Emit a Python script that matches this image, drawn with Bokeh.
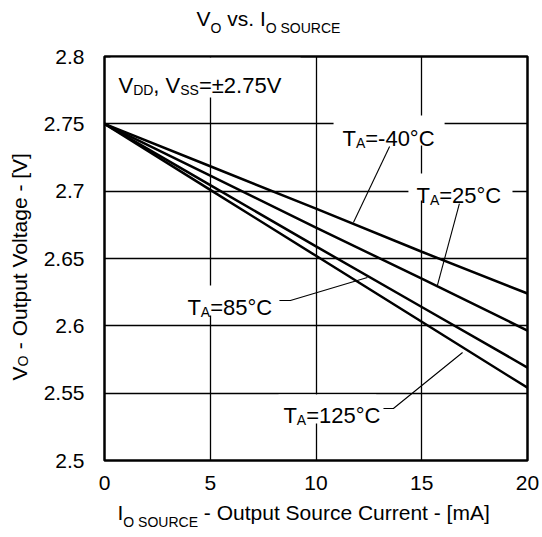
import math
from bokeh.plotting import figure
from bokeh.models import Range1d, FixedTicker, Label, BoxAnnotation, LinearAxis
from bokeh.embed import file_html
from bokeh.resources import INLINE

# ---------------- data ----------------
current_ma = [0, 5, 10, 15, 20]
v_m40 = [2.75, 2.7185, 2.687, 2.655, 2.624]
v_25 = [2.75, 2.7115, 2.673, 2.635, 2.5965]
v_85 = [2.75, 2.7045, 2.659, 2.614, 2.569]
v_125 = [2.75, 2.701, 2.652, 2.603, 2.554]

x_ticks = [0, 5, 10, 15, 20]
x_tick_labels = ["0", "5", "10", "15", "20"]
y_ticks = [2.5, 2.55, 2.6, 2.65, 2.7, 2.75, 2.8]
y_tick_labels = ["2.5", "2.55", "2.6", "2.65", "2.7", "2.75", "2.8"]

FONT = "Liberation Sans"

# layout constants (canvas pixels)
FL, FR, FT, FB = 104, 527, 56, 460
X0, X1, Y0, Y1 = 0, 20, 2.5, 2.8


def xd(px):
    return X0 + (px - FL) / (FR - FL) * (X1 - X0)


def yd(py):
    return Y1 - (py - FT) / (FB - FT) * (Y1 - Y0)


# Arial / Liberation Sans advance widths (per em)
W = {' ': .278, ',': .278, '-': .333, '.': .278, '=': .584, '°': .400, '±': .584,
     '[': .278, ']': .278, 'A': .667, 'C': .722, 'D': .722, 'E': .667, 'I': .278,
     'O': .778, 'R': .722, 'S': .667, 'T': .611, 'U': .722, 'V': .667,
     'a': .556, 'c': .500, 'e': .556, 'g': .556, 'l': .222, 'm': .833, 'n': .556,
     'o': .556, 'p': .556, 'r': .333, 's': .500, 't': .278, 'u': .556, 'v': .500}
for d in "0123456789":
    W[d] = .556


def tw(s, size):
    return sum(W.get(c, .556) for c in s) * size


p = figure(width=542, height=537, frame_width=FR - FL, frame_height=FB - FT,
           x_range=Range1d(X0, X1), y_range=Range1d(Y0, Y1),
           output_backend="svg", toolbar_location=None, title=None,
           min_border_left=FL, min_border_right=542 - FR, min_border_top=FT,
           min_border_bottom=537 - FB)
p.background_fill_color = "white"
p.border_fill_color = "white"
p.outline_line_color = "black"
p.outline_line_width = 2.5


def plain_axis(ax):
    ax.major_tick_line_color = None
    ax.minor_tick_line_color = None
    ax.major_tick_out = 0
    ax.major_tick_in = 0
    ax.minor_tick_out = 0
    ax.minor_tick_in = 0
    ax.axis_line_color = None
    ax.major_label_text_font = FONT
    ax.major_label_text_color = "black"


for ax, ticks, labels in ((p.xaxis[0], x_ticks, x_tick_labels),
                          (p.yaxis[0], y_ticks, y_tick_labels)):
    ax.ticker = FixedTicker(ticks=ticks)
    ax.major_label_overrides = dict(zip(ticks, labels))
    plain_axis(ax)
    ax.major_label_text_font_size = "21px"
p.xaxis[0].major_label_standoff = 15
p.yaxis[0].major_label_standoff = 20

p.xgrid.ticker = FixedTicker(ticks=x_ticks)
p.ygrid.ticker = FixedTicker(ticks=y_ticks)
for g in (p.xgrid[0], p.ygrid[0]):
    g.grid_line_color = "black"
    g.grid_line_width = 1.3

# white boxes behind annotation text (interrupt grid lines)
boxes = [
    (0.28, 9.27, 2.799, 2.7696),     # VDD label
    (10.83, 16.08, 2.7562, 2.7339),  # -40
    (14.37, 19.29, 2.7131, 2.6931),  # 25
    (3.69, 8.13, 2.6300, 2.6077),    # 85
    (8.23, 12.85, 2.549, 2.5275),    # 125
]
for l, r, t, b in boxes:
    p.add_layout(BoxAnnotation(left=l, right=r, top=t, bottom=b,
                               fill_color="white", fill_alpha=1.0,
                               line_color=None, level="underlay"))

# data lines
for ys in (v_m40, v_25, v_85, v_125):
    p.line(current_ma, ys, line_color="black", line_width=2.5)

# leader lines
leaders = [
    ([13.48, 11.77], [2.7332, 2.6768]),
    ([16.78, 15.74], [2.6908, 2.6300]),
    ([8.27, 8.79, 12.43], [2.6188, 2.6188, 2.6359]),
    ([13.19, 13.66, 16.93], [2.5386, 2.5386, 2.5802]),
]
for xs, ys in leaders:
    p.line(xs, ys, line_color="black", line_width=1.1)


def rich(x, y, segments):
    """in-frame text with subscripts; segments: (text, size_px, drop_px)"""
    cum = 0.0
    for txt, size, drop in segments:
        p.add_layout(Label(x=x, y=y, x_offset=cum, y_offset=-drop, text=txt,
                           text_font=FONT, text_font_size=f"{size}px",
                           text_color="black", text_align="left",
                           text_baseline="alphabetic"))
        cum += tw(txt, size)


F, S, D = 22, 14, 4.5
rich(0.66, 2.7785, [("V", F, 0), ("DD", S, D), (", V", F, 0), ("SS", S, D), ("=±2.75V", F, 0)])
rich(11.25, 2.7391, [("T", F, 0), ("A", S, D), ("=-40°C", F, 0)])
rich(14.75, 2.6968, [("T", F, 0), ("A", S, D), ("=25°C", F, 0)])
rich(3.92, 2.6136, [("T", F, 0), ("A", S, D), ("=85°C", F, 0)])
rich(8.46, 2.5334, [("T", F, 0), ("A", S, D), ("=125°C", F, 0)])

# ---- texts outside the frame: drawn as label-only axes in the side panels ----
T, TS = 21, 14


def outer_text(side, start_px, segments, sizes, standoffs):
    """segments: list of (text, is_sub). Builds one axis per font size."""
    groups = {False: {}, True: {}}
    cum = 0.0
    for txt, sub in segments:
        size = sizes[sub]
        lead = len(txt) - len(txt.lstrip())
        core = txt.strip()
        left = cum + tw(txt[:lead], size)
        centre = left + tw(core, size) / 2
        if side == "left":
            pos = yd(start_px - centre)
        else:
            pos = xd(start_px + centre)
        groups[sub][pos] = core
        cum += tw(txt, size)
    for sub in (False, True):
        ticks = list(groups[sub].keys())
        ax = LinearAxis(ticker=FixedTicker(ticks=ticks),
                        major_label_overrides=dict(groups[sub]))
        plain_axis(ax)
        ax.major_label_text_font_size = f"{sizes[sub]}px"
        ax.major_label_standoff = standoffs[sub]
        if side == "left":
            ax.major_label_orientation = "vertical"
        p.add_layout(ax, side)


SZ = {False: T, True: TS}
# title (above): sub axis innermost, then main
outer_text_title = [("V", False), ("O", True), (" vs. I", False), ("O SOURCE", True)]
# x-axis title (below)
outer_text_x = [("I", False), ("O SOURCE", True), (" - Output Source Current - [mA]", False)]
# y-axis title (left)
outer_text_y = [("V", False), ("O", True), (" - Output Voltage - [V]", False)]


def outer_text_ordered(side, start_px, segments, order, standoffs):
    groups = {False: {}, True: {}}
    cum = 0.0
    for txt, sub in segments:
        size = SZ[sub]
        lead = len(txt) - len(txt.lstrip())
        core = txt.strip()
        left = cum + tw(txt[:lead], size)
        centre = left + tw(core, size) / 2
        if side == "left":
            pos = yd(start_px - centre)
        else:
            pos = xd(start_px + centre)
        groups[sub][pos] = core
        cum += tw(txt, size)
    for sub in order:
        ticks = list(groups[sub].keys())
        ax = LinearAxis(ticker=FixedTicker(ticks=ticks),
                        major_label_overrides=dict(groups[sub]))
        plain_axis(ax)
        ax.major_label_text_font_size = f"{SZ[sub]}px"
        ax.major_label_standoff = standoffs[sub]
        if side == "left":
            ax.major_label_orientation = "vertical"
        p.add_layout(ax, side)


outer_text_ordered("above", 196, outer_text_title, (True, False), {True: 21, False: -13})
outer_text_ordered("below", 117, outer_text_x, (False, True), {False: 8, True: -13})
outer_text_ordered("left", 380, outer_text_y, (False, True), {False: 9, True: -26})

open("out.html", "w").write(file_html(p, INLINE))
